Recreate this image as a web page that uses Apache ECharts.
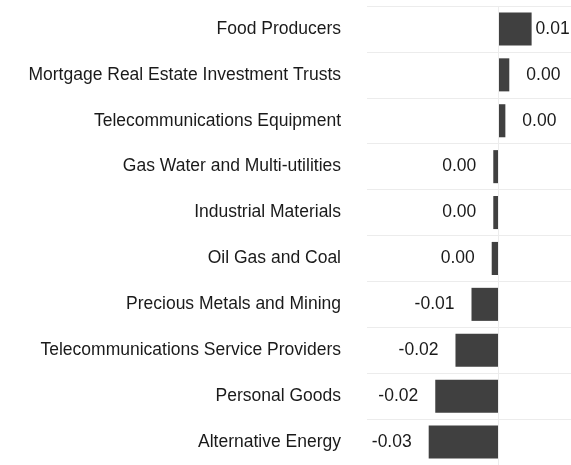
<!DOCTYPE html>
<html>
<head>
<meta charset="utf-8">
<script src="https://cdn.jsdelivr.net/npm/echarts@6/dist/echarts.min.js"></script>
<style>html,body{margin:0;padding:0;background:#fff}#c{width:571px;height:465px}</style>
</head>
<body>
<div id="c"></div>
<script>
var categories = ["Food Producers","Mortgage Real Estate Investment Trusts","Telecommunications Equipment","Gas Water and Multi-utilities","Industrial Materials","Oil Gas and Coal","Precious Metals and Mining","Telecommunications Service Providers","Personal Goods","Alternative Energy"];
var values = [0.0127, 0.0042, 0.0027, -0.0019, -0.0019, -0.0025, -0.0102, -0.0163, -0.0240, -0.0265];

var FONT = 'Liberation Sans, Arial, sans-serif';
var chart = echarts.init(document.getElementById('c'), null, {renderer:'canvas'});
var data = values.map(function(v, i){
  var item = {value: v};
  if (v < 0) item.label = {position: 'left'};
  if (i === 0) item.label = {distance: 4};
  return item;
});
chart.setOption({
  animation: false,
  grid: {left: 367, right: 0, top: 6, height: 463, containLabel: false},
  xAxis: {type: 'value', min: -0.05, max: 0.0277, show: false},
  yAxis: {
    type: 'category', data: categories, inverse: true,
    axisLine: {show: false}, axisTick: {show: false},
    axisLabel: {margin: 26, fontSize: 17.5, color: '#1a1a1a', fontFamily: FONT},
    splitLine: {show: true, lineStyle: {color: '#ececec', width: 1}}
  },
  series: [{
    type: 'bar', data: data, barCategoryGap: '28%',
    itemStyle: {color: '#404040'},
    label: {show: true, position: 'right', distance: 17, fontSize: 17.5, color: '#1a1a1a',
      fontFamily: FONT,
      formatter: function(p){
        var r = Math.round(p.value * 100) / 100;
        return Math.abs(r) < 1e-9 ? '0.00' : r.toFixed(2);
      }},
    markLine: {silent: true, symbol: 'none', label: {show: false},
      lineStyle: {color: '#ececec', type: 'solid', width: 1},
      data: [{xAxis: 0}]}
  }]
});
</script>
</body>
</html>
